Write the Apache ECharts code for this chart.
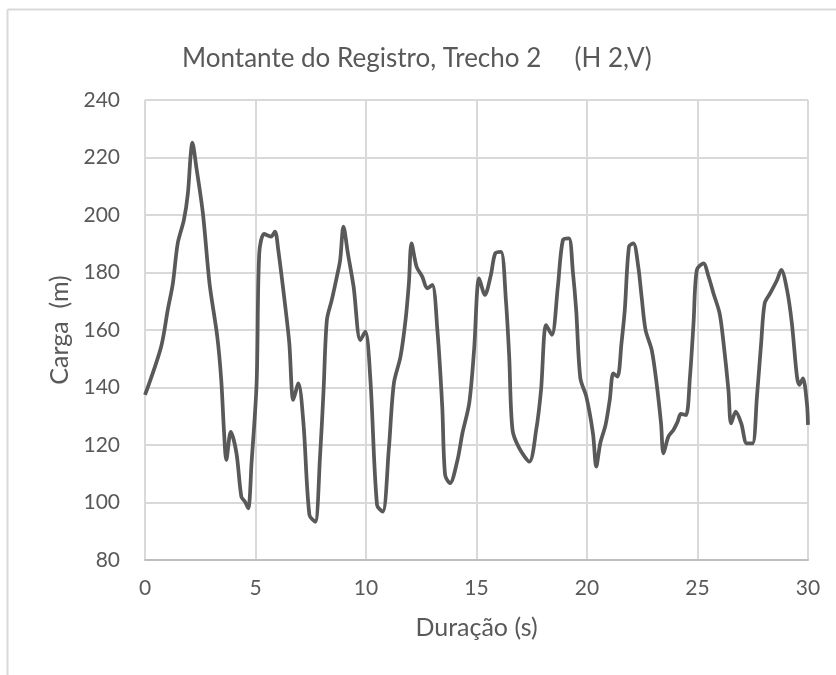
<!DOCTYPE html>
<html>
<head>
<meta charset="utf-8">
<script src="https://cdn.jsdelivr.net/npm/echarts@6/dist/echarts.min.js"></script>
<style>
  html, body { margin: 0; padding: 0; background: #fff; }
  #chart { width: 836px; height: 675px; }
</style>
</head>
<body>
<div id="chart"></div>
<script>
// tempo (s) e carga (m)
var tempo = [0, 0.73, 1.03, 1.26, 1.48, 1.76, 1.94, 2.06, 2.14, 2.32, 2.62, 2.92, 3.27, 3.45, 3.58, 3.68, 3.88, 4.14, 4.36, 4.52,
  4.67, 4.82, 5.05, 5.17, 5.39, 5.70, 5.88, 6.03, 6.33, 6.53, 6.71, 6.94, 7.17, 7.44, 7.70, 7.92, 8.08, 8.23, 8.45, 8.68,
  8.83, 8.98, 9.18, 9.44, 9.74, 9.97, 10.2, 10.5, 10.76, 11.03, 11.26, 11.56, 11.79, 11.94, 12.06, 12.29, 12.55, 12.77, 13.0, 13.23,
  13.45, 13.58, 13.8, 14.14, 14.36, 14.67, 14.89, 15.12, 15.38, 15.65, 15.85, 16.11, 16.33, 16.48, 16.63, 16.94, 17.39, 17.7, 17.92, 18.15,
  18.41, 18.68, 18.91, 19.18, 19.36, 19.51, 19.7, 19.97, 20.27, 20.42, 20.6, 20.84, 21.03, 21.19, 21.38, 21.56, 21.71, 21.9, 22.1, 22.32,
  22.47, 22.65, 22.93, 23.15, 23.35, 23.46, 23.68, 23.91, 24.1, 24.25, 24.48, 24.66, 24.82, 24.97, 25.27, 25.5, 25.72, 26.0, 26.18, 26.4,
  26.52, 26.73, 26.98, 27.23, 27.49, 27.69, 27.88, 28.04, 28.29, 28.6, 28.79, 29.05, 29.27, 29.5, 29.61, 29.77, 29.95, 30];
var carga = [137.4, 154.2, 167, 176.2, 190.1, 198.3, 207.5, 220.3, 225.2, 216.8, 200.6, 176.2, 157.7, 142.6, 124, 114.8, 124.6, 117.1, 102, 100.3,
  98, 113.6, 141.4, 186.7, 193.4, 192.5, 194.2, 187.8, 169.3, 155.4, 135.7, 141.4, 127.5, 95.7, 93.3, 116, 139.1, 163.5, 170.4, 178.5,
  184.3, 196, 186.7, 175, 156.5, 159.4, 142.6, 99.1, 96.8, 118.3, 141.4, 150.7, 163.5, 176.2, 190.1, 182, 178.5, 174.5, 175.7, 160,
  133.3, 109.6, 106.7, 114.8, 124, 134.5, 153, 178, 172.2, 179.1, 186.7, 187.2, 170.4, 150.7, 125.2, 118.8, 114.2, 125.2, 139.1, 161.7,
  158.3, 175, 191.3, 191.9, 180.3, 167, 143.2, 136.8, 124, 112.5, 120.6, 127, 135.7, 144.9, 143.8, 155.4, 167, 189, 190.1, 182,
  171.6, 160, 153, 141.4, 127.5, 117.1, 122.9, 125.2, 128.1, 130.8, 130.4, 143.8, 162.3, 180.9, 183.2, 178.6, 172.8, 165.8, 155.4, 139.1,
  127.5, 131.6, 127.5, 120.6, 120.6, 136.8, 155.4, 169.3, 172.8, 177.4, 180.9, 174, 162.3, 143.8, 140.9, 143.2, 134.5, 127];

var pontos = tempo.map(function (t, i) { return [t, carga[i]]; });

var myChart = echarts.init(document.getElementById("chart"));
var fonte = "Lato, 'Open Sans', sans-serif";
var option = {
  backgroundColor: "#fff",
  animation: false,
  title: {
    text: "Montante do Registro, Trecho 2     (H 2,V)",
    left: 177,
    top: 41,
    textStyle: { color: "#595959", fontSize: 26, fontWeight: "normal", fontFamily: fonte }
  },
  graphic: [
    { type: "line", shape: { x1: 7.5, y1: 9.5, x2: 836, y2: 9.5 }, style: { stroke: "#d9d9d9", lineWidth: 2 } },
    { type: "line", shape: { x1: 7.5, y1: 9.5, x2: 7.5, y2: 675 }, style: { stroke: "#d9d9d9", lineWidth: 2 } }
  ],
  grid: { left: 145, right: 28, top: 100, bottom: 115 },
  xAxis: {
    type: "value",
    min: 0,
    max: 30,
    interval: 5,
    name: "Duração (s)",
    nameLocation: "middle",
    nameGap: 55,
    nameTextStyle: { color: "#595959", fontSize: 25, fontFamily: fonte },
    axisLine: { show: true, lineStyle: { color: "#bfbfbf", width: 2 } },
    axisTick: { show: false },
    axisLabel: { color: "#595959", fontSize: 21, fontFamily: fonte, margin: 18 },
    splitLine: { show: true, lineStyle: { color: "#d9d9d9", width: 2 } }
  },
  yAxis: {
    type: "value",
    min: 80,
    max: 240,
    interval: 20,
    name: "Carga  (m)",
    nameLocation: "middle",
    nameGap: 73,
    nameTextStyle: { color: "#595959", fontSize: 25, fontFamily: fonte },
    axisLine: { show: false },
    axisTick: { show: false },
    axisLabel: { color: "#595959", fontSize: 21, fontFamily: fonte, margin: 25 },
    splitLine: { show: true, lineStyle: { color: "#d9d9d9", width: 2 } }
  },
  series: [
    {
      type: "line",
      data: pontos,
      smooth: 0.3,
      showSymbol: false,
      clip: true,
      lineStyle: { color: "#595959", width: 3.75 }
    }
  ]
};
myChart.setOption(option);
</script>
</body>
</html>
